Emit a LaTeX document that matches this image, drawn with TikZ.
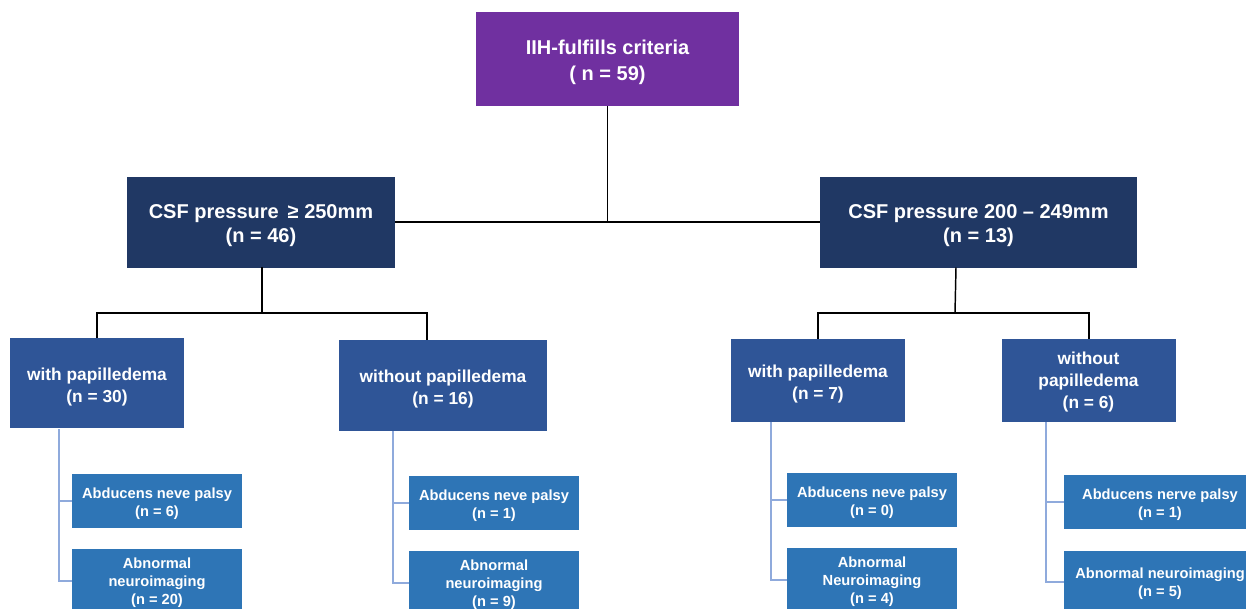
\documentclass[tikz,border=0pt]{standalone}
\usepackage{fontspec}
\setmainfont{Liberation Sans}
\definecolor{cpurple}{HTML}{7030A0}
\definecolor{cnavy}{HTML}{203864}
\definecolor{cmid}{HTML}{2F5597}
\definecolor{clight}{HTML}{2E75B6}
\definecolor{cline}{HTML}{8FAADC}
\tikzset{
  bx/.style={inner sep=0pt},
  topbox/.style={bx, fill=cpurple},
  csfbox/.style={bx, fill=cnavy},
  papbox/.style={bx, fill=cmid},
  subbox/.style={bx, fill=clight},
  tx/.style={inner sep=0pt, align=center, text=white},
  toptx/.style={tx, font=\fontsize{15}{19.5}\selectfont\bfseries},
  csftx/.style={tx, font=\fontsize{15}{18}\selectfont\bfseries},
  paptx/.style={tx, font=\fontsize{13}{16.5}\selectfont\bfseries},
  subtx/.style={tx, font=\fontsize{11}{13.5}\selectfont\bfseries},
  blk/.style={draw=black, line width=1.5pt},
  thinblk/.style={draw=black, line width=1.1pt},
  lt/.style={draw=cline, line width=1.1pt},
}
\begin{document}
\begin{tikzpicture}[x=0.75pt,y=-0.75pt]
\useasboundingbox (0,0) rectangle (1246,609);
\clip (0,0) rectangle (1246,609);
\fill[white] (0,0) rectangle (1246,609);
% level 1
\node[topbox, minimum width=263*0.75pt, minimum height=94*0.75pt] (top) at (607.5,59) {};
\node[toptx] (topt) at ([yshift=-2.5pt]top.center) {IIH-fulfills criteria\\( n = 59)};
% level 2
\node[csfbox, minimum width=268*0.75pt, minimum height=91*0.75pt] (csfL) at (261,222.2) {};
\node[csftx] (csfLt) at ([yshift=-2.5pt]csfL.center) {CSF pressure \,≥ 250mm\\(n = 46)};
\node[csfbox, minimum width=317*0.75pt, minimum height=91*0.75pt] (csfR) at (978.5,222.2) {};
\node[csftx] (csfRt) at ([yshift=-2.5pt]csfR.center) {CSF pressure 200 – 249mm\\(n = 13)};
% level 3
\node[papbox, minimum width=174*0.75pt, minimum height=90*0.75pt] (wpL) at (97,383.5) {};
\node[paptx] (wpLt) at ([yshift=-2.4pt]wpL.center) {with papilledema\\(n = 30)};
\node[papbox, minimum width=208*0.75pt, minimum height=91*0.75pt] (wopL) at (443,385.5) {};
\node[paptx] (wopLt) at ([yshift=-2.4pt]wopL.center) {without papilledema\\(n = 16)};
\node[papbox, minimum width=174*0.75pt, minimum height=83*0.75pt] (wpR) at (818,380.5) {};
\node[paptx] (wpRt) at ([yshift=-2.4pt]wpR.center) {with papilledema\\(n = 7)};
\node[papbox, minimum width=174*0.75pt, minimum height=83*0.75pt] (wopR) at (1088.5,380.5) {};
\node[paptx] (wopRt) at ([yshift=-1.5pt]wopR.center) {without\\papilledema\\(n = 6)};
% level 4
\node[subbox, minimum width=170*0.75pt, minimum height=54*0.75pt] (abdL1) at (157,501) {};
\node[subtx] (abdL1t) at ([yshift=-2pt]abdL1.center) {Abducens neve palsy\\(n = 6)};
\node[subbox, minimum width=170*0.75pt, minimum height=64*0.75pt] (abnL1) at (157,581) {};
\node[subtx] (abnL1t) at ([yshift=-1pt]abnL1.center) {Abnormal\\neuroimaging\\(n = 20)};
\node[subbox, minimum width=170*0.75pt, minimum height=54*0.75pt] (abdL2) at (494,503) {};
\node[subtx] (abdL2t) at ([yshift=-2pt]abdL2.center) {Abducens neve palsy\\(n = 1)};
\node[subbox, minimum width=170*0.75pt, minimum height=64*0.75pt] (abnL2) at (494,583) {};
\node[subtx] (abnL2t) at ([yshift=-1pt]abnL2.center) {Abnormal\\neuroimaging\\(n = 9)};
\node[subbox, minimum width=170*0.75pt, minimum height=54*0.75pt] (abdR1) at (872,500) {};
\node[subtx] (abdR1t) at ([yshift=-2pt]abdR1.center) {Abducens neve palsy\\(n = 0)};
\node[subbox, minimum width=170*0.75pt, minimum height=64*0.75pt] (abnR1) at (872,580) {};
\node[subtx] (abnR1t) at ([yshift=-1pt]abnR1.center) {Abnormal\\Neuroimaging\\(n = 4)};
\node[subbox, minimum width=192*0.75pt, minimum height=54*0.75pt] (abdR2) at (1160,502) {};
\node[subtx] (abdR2t) at ([yshift=-2pt]abdR2.center) {Abducens nerve palsy\\(n = 1)};
\node[subbox, minimum width=192*0.75pt, minimum height=62*0.75pt] (abnR2) at (1160,582) {};
\node[subtx] (abnR2t) at ([yshift=-1pt]abnR2.center) {Abnormal neuroimaging\\(n = 5)};
% black connectors
\coordinate (jt) at (607.5,222.2);
\draw[thinblk] (top.south) -- (jt);
\draw[blk] (csfL.east) -- (csfR.west);
\coordinate (csfLb) at (262,267.5);
\coordinate (jl) at (262,313.5);
\coordinate (wopLtop) at (427,340);
\draw[thinblk] (csfLb) -- (jl);
\draw[blk] (wpL.north) |- (jl) -| (wopLtop);
\coordinate (csfRb) at (956,267.5);
\coordinate (jr) at (955,313);
\draw[thinblk] (csfRb) -- (jr);
\draw[blk] (wpR.north) |- (jr) -| (wopR.north);
% light connectors
\coordinate (b1) at (59,429);
\draw[lt] (abdL1.west) -| (b1);
\draw[lt] (abnL1.west) -| (b1);
\coordinate (b2) at (393,431);
\draw[lt] (abdL2.west) -| (b2);
\draw[lt] (abnL2.west) -| (b2);
\coordinate (b3) at (771,422);
\draw[lt] (abdR1.west) -| (b3);
\draw[lt] (abnR1.west) -| (b3);
\coordinate (b4) at (1046,422);
\draw[lt] (abdR2.west) -| (b4);
\draw[lt] (abnR2.west) -| (b4);
\end{tikzpicture}
\end{document}
